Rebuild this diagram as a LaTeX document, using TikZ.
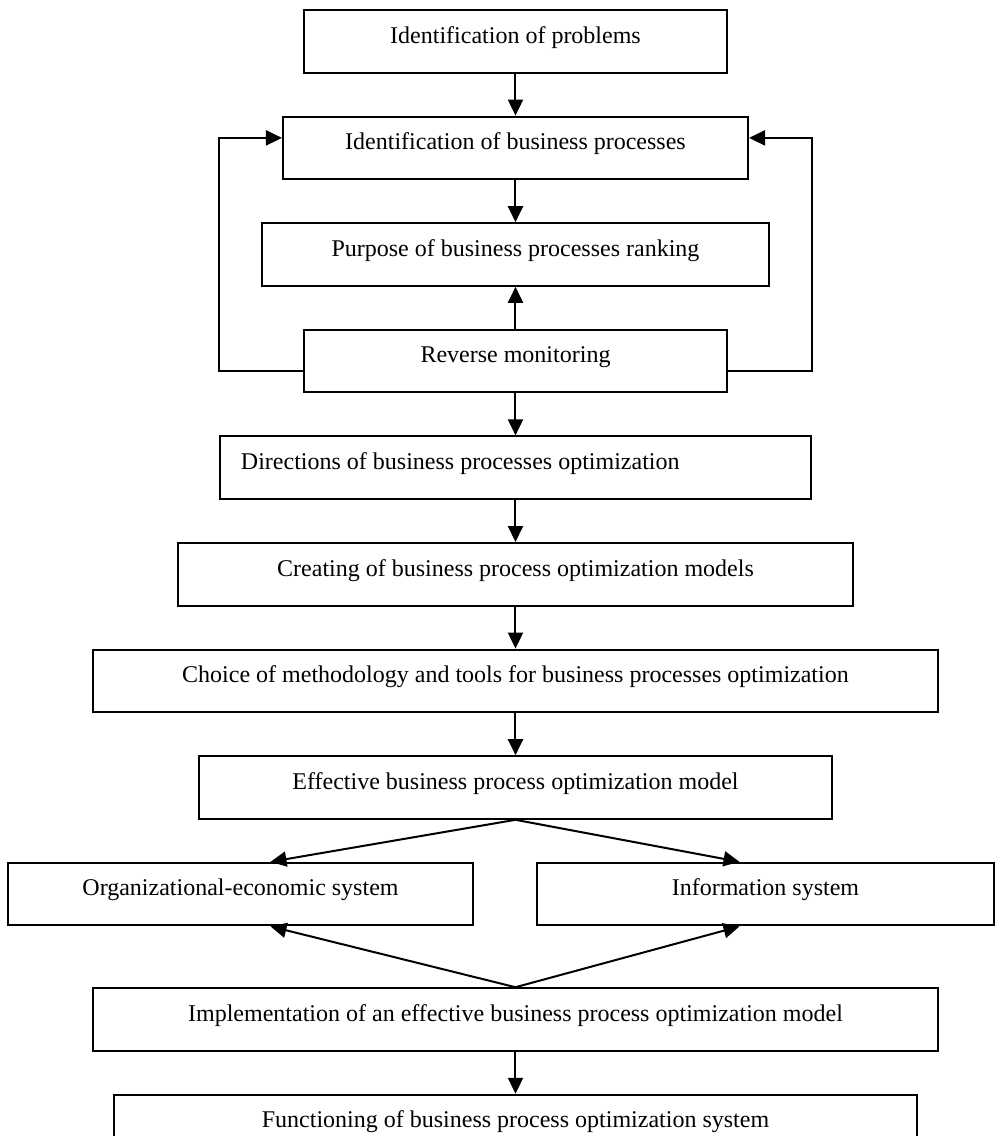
\documentclass[tikz,border=0pt]{standalone}
\usepackage{fontspec}
\setmainfont{Liberation Serif}
\usepackage{tikz}
\usetikzlibrary{arrows.meta,positioning}

\begin{document}
\begin{tikzpicture}[
  node distance=21pt,
  box/.style={draw, line width=1pt, inner xsep=0pt, inner ysep=0pt, align=center,
    minimum height=31.3pt, text height=16.5pt, text depth=14.8pt,
    font=\fontsize{12pt}{14pt}\selectfont},
  arrow/.style={-{Triangle[length=8pt,width=7.5pt]}, line width=1pt}
]
\useasboundingbox (-257.75pt,4.5pt) rectangle (241.75pt,-563.5pt);

\node[box, minimum width=211.5pt, anchor=north] (problems) at (0,0) {Identification of problems};
\node[box, minimum width=232.5pt, below=of problems] (identbp) {Identification of business processes};
\node[box, minimum width=253.5pt, below=of identbp] (ranking) {Purpose of business processes ranking};
\node[box, minimum width=211.5pt, below=of ranking] (monitor) {Reverse monitoring};
\node[box, text width=274.5pt, inner xsep=10.5pt, align=flush left, below=of monitor] (directions) {Directions of business processes optimization};
\node[box, minimum width=337.5pt, below=of directions] (models) {Creating of business process optimization models};
\node[box, minimum width=422.5pt, below=of models] (choice) {Choice of methodology and tools for business processes optimization};
\node[box, minimum width=316.5pt, below=of choice] (effmodel) {Effective business process optimization model};
\node[box, minimum width=232.5pt, below left=21pt and 20.75pt of effmodel.south] (orgsys) {Organizational-economic system};
\node[box, minimum width=228.5pt, below right=21pt and 10.25pt of effmodel.south] (infosys) {Information system};
\node[box, minimum width=422pt, below=83.7pt of effmodel] (implement) {Implementation of an effective business process optimization model};
\node[box, minimum width=401pt, below=of implement] (functioning) {Functioning of business process optimization system};

\draw[arrow] (problems) -- (identbp);
\draw[arrow] (identbp) -- (ranking);
\draw[arrow] (monitor) -- (ranking);
\draw[arrow] (monitor) -- (directions);
\draw[arrow] (directions) -- (models);
\draw[arrow] (models) -- (choice);
\draw[arrow] (choice) -- (effmodel);

% feedback loops
\draw[arrow] ([yshift=-5pt]monitor.west) -- ++(-42pt,0) |- ([yshift=5pt]identbp.west);
\draw[arrow] ([yshift=-5pt]monitor.east) -- ++(42pt,0) |- ([yshift=5pt]identbp.east);

\draw[arrow] (effmodel.south) -- ([xshift=15pt]orgsys.north);
\draw[arrow] (effmodel.south) -- ([xshift=-13pt]infosys.north);
\draw[arrow] (implement.north) -- ([xshift=15pt]orgsys.south);
\draw[arrow] (implement.north) -- ([xshift=-13pt]infosys.south);
\draw[arrow] (implement) -- (functioning);
\end{tikzpicture}
\end{document}
